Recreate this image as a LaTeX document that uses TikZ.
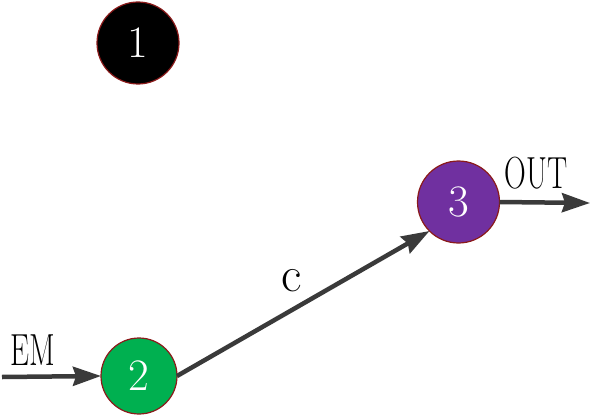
\documentclass[tikz,border=0pt]{standalone}
\usetikzlibrary{arrows.meta}
\definecolor{ringred}{HTML}{8B1A1A}
\definecolor{stategreen}{HTML}{00B050}
\definecolor{statepurple}{HTML}{7030A0}
\definecolor{arrowgray}{HTML}{3A3A3A}
\newcommand{\condtext}[1]{\scalebox{0.67}[1]{#1}}
\tikzset{
  state/.style={circle, draw=ringred, line width=1.2pt, inner sep=0pt, outer sep=0pt,
    text=white, font=\fontsize{45}{48}\selectfont},
  arr/.style={draw=arrowgray, line width=4.5pt,
    -{Stealth[length=28pt, width=19pt, inset=3pt, fill=arrowgray]}},
  lbl/.style={inner sep=0pt, text=black, font=\fontsize{45}{48}\selectfont},
  lblc/.style={inner sep=0pt, text=black, font=\fontsize{50}{52}\selectfont}
}
\begin{document}
\begin{tikzpicture}[x=1pt, y=1pt]
\useasboundingbox (0,0) rectangle (591,416);
\node[state, fill=black, minimum size=82pt] (n1) at (138,373) {1};
\node[state, fill=stategreen, minimum size=76pt] (n2) at (139,40) {2};
\node[state, fill=statepurple, minimum size=82pt] (n3) at (458.5,214) {3};
\coordinate (emstart) at (2,39);
\coordinate (outend) at (590,213);
\draw[arr] (emstart) -- (n2.west);
\draw[arr] (n2.east) -- (n3.225);
\draw[arr] (n3.east) -- (outend);
\node[lbl] (lem) at (33,66) {\condtext{EM}};
\node[lbl] (lout) at (536,243) {\condtext{OUT}};
\node[lblc] (lc) at (292,135) {c};
\end{tikzpicture}
\end{document}
